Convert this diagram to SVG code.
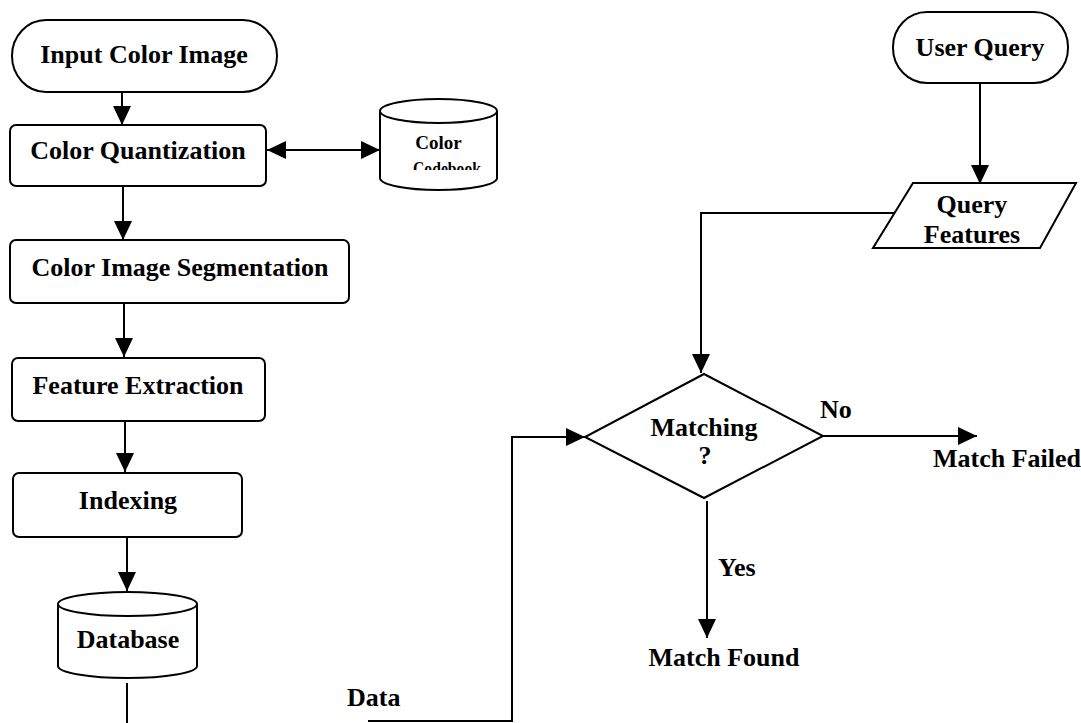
<svg xmlns="http://www.w3.org/2000/svg" width="1081" height="723" viewBox="0 0 1081 723">
  <style>
    .shape { fill: #fff; stroke: #000; stroke-width: 2; }
    .conn { fill: none; stroke: #000; stroke-width: 2; }
    .lbl { font-family: "Liberation Serif", "Times New Roman", serif; font-weight: bold; font-size: 26px; fill: #000; }
    .mid { text-anchor: middle; }
    .small { font-size: 19px; }
  </style>
  <defs>
    <marker id="arrow" markerUnits="userSpaceOnUse" markerWidth="19" markerHeight="18" refX="19" refY="9" orient="auto-start-reverse">
      <path d="M0,0 L19,9 L0,18 Z" fill="#000"/>
    </marker>
    <clipPath id="codebook-clip">
      <rect x="380" y="99" width="118" height="71"/>
    </clipPath>
  </defs>

  <rect width="1081" height="723" fill="#fff"/>

  <!-- connectors -->
  <g id="connectors">
    <line class="conn" x1="122" y1="92" x2="122" y2="125" marker-end="url(#arrow)"/>
    <line class="conn" x1="267" y1="150" x2="380" y2="150" marker-start="url(#arrow)" marker-end="url(#arrow)"/>
    <line class="conn" x1="123" y1="186" x2="123" y2="240" marker-end="url(#arrow)"/>
    <line class="conn" x1="124" y1="303" x2="124" y2="357" marker-end="url(#arrow)"/>
    <line class="conn" x1="125" y1="421" x2="125" y2="472" marker-end="url(#arrow)"/>
    <line class="conn" x1="127" y1="537" x2="127" y2="591" marker-end="url(#arrow)"/>
    <line class="conn" x1="127" y1="683" x2="127" y2="723"/>
    <path class="conn" d="M368,721 H512 V437 H585" marker-end="url(#arrow)"/>
    <line class="conn" x1="980" y1="83" x2="980" y2="184" marker-end="url(#arrow)"/>
    <path class="conn" d="M895,213 H701 V373" marker-end="url(#arrow)"/>
    <line class="conn" x1="823" y1="436" x2="977" y2="436" marker-end="url(#arrow)"/>
    <line class="conn" x1="707" y1="501" x2="707" y2="638" marker-end="url(#arrow)"/>
  </g>

  <g id="input-color-image">
    <rect class="shape" x="12" y="20" width="265" height="72" rx="34" ry="36"/>
    <text class="lbl mid" x="144" y="63">Input Color Image</text>
  </g>

  <g id="color-quantization">
    <rect class="shape" x="10" y="125" width="256" height="61" rx="6"/>
    <text class="lbl mid" x="138" y="159">Color Quantization</text>
  </g>

  <g id="color-codebook">
    <path class="shape" d="M380,111 A58.5,12 0 0 1 497,111 V178 A58.5,12 0 0 1 380,178 Z"/>
    <path class="conn" d="M380,111 A58.5,12 0 0 0 497,111"/>
    <text class="lbl mid small" x="438.5" y="149">Color</text>
    <text class="lbl mid small" x="447" y="175" clip-path="url(#codebook-clip)" textLength="68" lengthAdjust="spacingAndGlyphs">Codebook</text>
  </g>

  <g id="color-image-segmentation">
    <rect class="shape" x="10" y="240" width="339" height="63" rx="6"/>
    <text class="lbl mid" x="180" y="276">Color Image Segmentation</text>
  </g>

  <g id="feature-extraction">
    <rect class="shape" x="12" y="358" width="253" height="63" rx="6"/>
    <text class="lbl mid" x="138" y="394">Feature Extraction</text>
  </g>

  <g id="indexing">
    <rect class="shape" x="13" y="473" width="229" height="64" rx="6"/>
    <text class="lbl mid" x="128" y="509">Indexing</text>
  </g>

  <g id="database">
    <path class="shape" d="M58,604 A69.5,12 0 0 1 197,604 V666 A69.5,12 0 0 1 58,666 Z"/>
    <path class="conn" d="M58,604 A69.5,12 0 0 0 197,604"/>
    <text class="lbl mid" x="128" y="648">Database</text>
  </g>

  <g id="data-label">
    <text class="lbl" x="347" y="706" font-size="25">Data</text>
  </g>

  <g id="user-query">
    <rect class="shape" x="893" y="12" width="175" height="71" rx="34" ry="35"/>
    <text class="lbl mid" x="980" y="56">User Query</text>
  </g>

  <g id="query-features">
    <polygon class="shape" points="913,183 1076,183 1040,248 873,248"/>
    <text class="lbl mid" x="972" y="213">Query</text>
    <text class="lbl mid" x="972" y="243">Features</text>
  </g>

  <g id="matching">
    <polygon class="shape" points="704,374 823,436 704,498 585,437"/>
    <text class="lbl mid" x="704" y="436">Matching</text>
    <text class="lbl mid" x="705" y="464">?</text>
  </g>

  <g id="branch-labels">
    <text class="lbl" x="820" y="418" font-size="25">No</text>
    <text class="lbl" x="718" y="576" font-size="25">Yes</text>
  </g>

  <g id="match-failed">
    <text class="lbl" x="933" y="467">Match Failed</text>
  </g>

  <g id="match-found">
    <text class="lbl mid" x="724" y="666">Match Found</text>
  </g>
</svg>
